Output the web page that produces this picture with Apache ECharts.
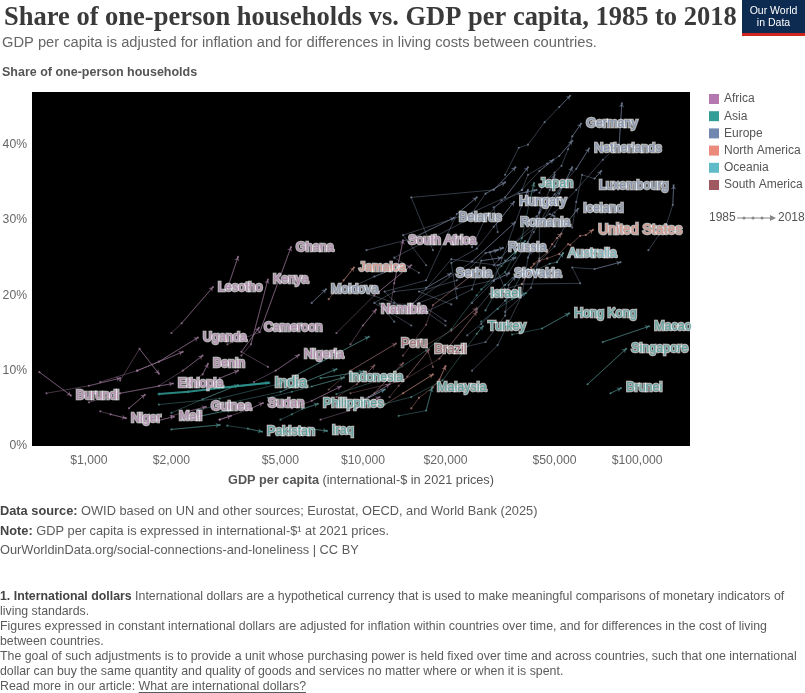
<!DOCTYPE html>
<html>
<head>
<meta charset="utf-8">
<script src="https://cdn.jsdelivr.net/npm/echarts@6/dist/echarts.min.js"></script>
<style>
html,body{margin:0;padding:0;background:#fff;}
#chart{width:805px;height:693px;}
</style>
</head>
<body>
<div id="chart"></div>
<script>
// ---------------- DATA ----------------
const countryNames = [
  'Germany','Netherlands','Japan','Luxembourg','Hungary','Iceland','Belarus','Romania','United States','South Africa',
  'Russia','Australia','Serbia','Slovakia','Israel','Namibia','Hong Kong','Turkey','Macao','Peru',
  'Brazil','Singapore','Malaysia','Brunei','Ghana','Jamaica','Lesotho','Kenya','Moldova','Cameroon',
  'Uganda','Nigeria','Benin','Ethiopia','India','Indonesia','Burundi','Guinea','Sudan','Philippines',
  'Niger','Mali','Pakistan','Iraq',
  'Sweden','Denmark','Norway','Finland','Switzerland','Austria','France','United Kingdom','Belgium','Italy',
  'Spain','Portugal','Greece','Poland','Czechia','Lithuania','Latvia','Estonia','Bulgaria','Croatia',
  'Slovenia','Ireland','Ukraine','Canada','Mexico','Costa Rica','Argentina','Uruguay','Chile','Colombia',
  'Ecuador','South Korea','China','Vietnam','Nepal','Bangladesh','Cambodia','Armenia','New Zealand','Fiji',
  'Malawi','Tanzania','Zambia','Senegal','Egypt','Morocco','Botswana','Zimbabwe','Mozambique','Sierra Leone',
  'Rwanda','Tunisia'
];
const countryRegions = [
  'Europe','Europe','Asia','Europe','Europe','Europe','Europe','Europe','North America','Africa',
  'Europe','Oceania','Europe','Europe','Asia','Africa','Asia','Asia','Asia','South America',
  'South America','Asia','Asia','Asia','Africa','North America','Africa','Africa','Europe','Africa',
  'Africa','Africa','Africa','Africa','Asia','Asia','Africa','Africa','Africa','Asia',
  'Africa','Africa','Asia','Asia',
  'Europe','Europe','Europe','Europe','Europe','Europe','Europe','Europe','Europe','Europe',
  'Europe','Europe','Europe','Europe','Europe','Europe','Europe','Europe','Europe','Europe',
  'Europe','Europe','Europe','North America','North America','North America','South America','South America','South America','South America',
  'South America','Asia','Asia','Asia','Asia','Asia','Asia','Asia','Oceania','Oceania',
  'Africa','Africa','Africa','Africa','Africa','Africa','Africa','Africa','Africa','Africa',
  'Africa','Africa'
];
// GDP per capita (international-$ 2021) along each country's path, 1985 -> 2018
const gdpValues = [
  [44000,46000,50000,53000,56000,58000,62470],
  [40000,43000,50000,55000,60000,66800],
  [27000,33000,36000,38000,39000,40500,42080],
  [110000,128000,135000,136000],
  [22000,21000,26000,30000,35570],
  [40000,44000,50000,55000,60920],
  [10300,15000,21480],
  [13000,11500,15000,25000,35870],
  [41000,44000,47000,52000,56000,57000,62000,65000,69090],
  [12500,13000,14000],
  [21000,16000,22000,28000,32430],
  [33000,35000,38000,43000,48000,51000,53700],
  [15000,11000,13000,17000,20950],
  [20000,16000,22000,30000,34120],
  [27000,31000,35000,39360],
  [9000,10000,11155],
  [35000,45000,56480],
  [12000,15000,19500,26000,27400],
  [75000,110600],
  [7500,9000,13195],
  [12500,13500,14500,17420],
  [66000,91200],
  [13500,17000,17860],
  [80000,87410],
  [3200,4200,5461],
  [7500,8500,9270],
  [2000,2180,2835],
  [3600,3900,4500],
  [6500,7328],
  [4500,3600,4172],
  [1500,1800,2499],
  [4000,4800,5840],
  [2300,2600,2718],
  [1000,1300,2026],
  [1800,2300,3000,4539],
  [4500,5500,6500,8521],
  [660,860],
  [2000,2300,2673],
  [3000,3800,4315],
  [5000,5500,6000,6850],
  [1100,1200,1365],
  [1600,1800,2043],
  [3200,3800,4280],
  [6000,7390],
  [33000,37000,40000,46000,52000,57000],
  [38000,40000,47000,52000,58000],
  [50000,60000,75000,86000,88000],
  [31000,30000,38000,44000,49500],
  [58000,60000,63000,70000,74000],
  [36000,45000,52000,58000],
  [33000,40000,44000,48000,50000],
  [30000,36000,42000,48000,50000],
  [34000,42000,48000,54000],
  [33000,41000,44000,44000,45000],
  [25000,31000,38000,40000,41000],
  [22000,28000,33000,34000,36000],
  [24000,27000,34000,29000,31000],
  [13000,15000,21000,31000,36000],
  [25000,28000,32000,37000,43000],
  [17000,14000,25000,33000,40000],
  [16000,13000,24000,28000,33000],
  [18000,15000,30000,36000],
  [14000,12000,17000,22000,26000],
  [20000,17000,25000,27000,32000],
  [25000,30000,38000,40000],
  [26000,29000,38000,62000,58000,70000,87000],
  [13000,9000,11000,14000],
  [38000,40000,42000,47000,49000,51000,53000],
  [15000,16000,18000,19000,20000],
  [12000,14000,18000],
  [18000,17000,21000,26000],
  [14000,17000,18000,25000],
  [9000,14000,19000,26000],
  [9000,11000,14000],
  [8000,9500,11000],
  [8000,12000,17000,21000,26000,32000,39000],
  [1800,3000,5000,10500],
  [2500,5000,8000],
  [2000,2600,3500],
  [2000,3000],
  [2200,3300],
  [7000,10000],
  [28000,30000,33000,37000,40000,44000],
  [10000,12000],
  [1300,1530,1800],
  [1800,2200,2600],
  [2800,3000,3500],
  [3000,3300],
  [8000,10500,12500],
  [5500,6500,8300],
  [8000,11000,15000],
  [3200,3500],
  [700,1000,1300],
  [1400,1600],
  [1100,1500,2200],
  [7000,9500,11500]
];
// Share of one-person households (%) along each path
const shareValues = [
  [33.6,35.0,36.3,37.2,39.4,41.1,42.8],
  [29.8,30.5,33.4,35.2,36.8,39.5],
  [20.8,23.1,25.6,27.6,29.5,32.4,34.9],
  [26.0,29.4,32.0,34.6],
  [19.6,24.3,26.2,29.1,32.4],
  [22.5,24.5,26.5,29.5,31.5],
  [26.0,27.5,30.3],
  [16.5,18.9,18.8,24.5,29.7],
  [23.7,24.6,24.9,25.5,26.8,26.7,27.9,28.0,28.7],
  [17.8,21.6,27.3],
  [18.8,20.5,22.0,25.6,26.3],
  [19.3,20.5,22.8,23.4,24.2,24.4,25.6],
  [16.0,19.0,20.5,21.0,22.9],
  [16.6,19.0,20.9,22.0,22.9],
  [16.5,18.2,19.5,20.3],
  [13.5,16.0,18.1],
  [14.8,15.6,17.6],
  [5.6,6.5,8.7,14.9,15.9],
  [13.8,15.9],
  [7.5,10.0,13.6],
  [6.5,8.0,9.2,12.8],
  [8.2,12.9],
  [4.0,4.7,7.7],
  [7.0,7.7],
  [13.5,15.1,26.4],
  [19.5,22.0,23.7],
  [15.0,16.3,21.1],
  [12.0,13.5,22.1],
  [19.0,20.8],
  [10.5,12.5,15.7],
  [10.0,11.2,14.4],
  [8.5,10.0,12.1],
  [8.2,9.5,10.9],
  [5.8,7.0,8.3],
  [6.9,7.2,7.7,8.4],
  [6.4,7.2,7.9,9.1],
  [9.8,6.7],
  [4.0,4.6,5.2],
  [3.5,4.8,5.7],
  [3.5,4.2,4.9,5.6],
  [4.6,4.2,3.7],
  [3.0,3.4,3.9],
  [2.7,2.3,1.9],
  [2.4,2.0],
  [36.0,39.6,40.0,43.0,45.0,46.5],
  [34.0,36.0,37.5,38.5,40.5],
  [31.0,34.0,38.0,40.0,45.5],
  [28.4,31.7,34.0,36.5,38.0],
  [29.0,32.4,36.0,35.5,36.5],
  [27.0,29.7,33.5,37.0],
  [24.6,27.1,31.0,34.0,36.0],
  [24.0,27.1,29.5,30.8,30.5],
  [23.0,28.4,32.0,34.8],
  [17.8,21.0,24.9,31.0,33.0],
  [10.0,13.4,20.0,25.0,26.0],
  [12.9,13.8,17.3,21.4,22.5],
  [14.7,16.2,19.7,25.7,26.0],
  [18.3,18.6,24.8,24.0,25.0],
  [26.4,30.3,32.6,33.5,34.0],
  [24.0,28.0,31.0,33.0,37.0],
  [23.0,25.0,30.0,33.5,35.0],
  [26.0,33.0,34.0,37.0],
  [18.0,20.5,22.0,30.8,33.0],
  [16.0,17.8,20.8,24.6,25.0],
  [19.0,21.9,32.0,34.0],
  [18.1,20.2,21.5,21.6,23.7,23.5,24.4],
  [19.0,21.0,22.5,24.0],
  [21.5,22.9,24.2,25.7,26.8,27.6,28.2],
  [5.0,6.4,7.8,8.8,10.6],
  [5.5,7.0,9.5],
  [10.5,13.4,15.3,18.3],
  [12.0,16.1,18.7,22.7],
  [7.0,8.7,11.6,17.8],
  [5.0,7.0,11.0],
  [6.5,8.2,10.7],
  [6.9,9.0,12.7,15.5,20.0,23.9,27.2],
  [5.5,6.3,8.3,14.5],
  [4.8,7.2,10.2],
  [4.4,6.2,8.1],
  [2.2,2.8],
  [3.5,4.8],
  [9.0,9.9],
  [18.0,20.0,21.4,23.1,23.5,22.9],
  [6.0,7.5],
  [8.7,12.9,9.6],
  [8.0,10.0,12.0],
  [8.0,9.0,10.0],
  [3.5,4.0],
  [5.3,6.5,8.2],
  [5.0,6.0,7.9],
  [15.0,20.0,24.0],
  [20.9,25.1],
  [7.0,8.0,9.0],
  [5.0,6.8],
  [8.5,10.0,12.5],
  [3.5,5.0,6.5]
];
const labeledCountries = countryNames.slice(0, 44);
const regionNames = ['Africa','Asia','Europe','North America','Oceania','South America'];
const regionColors = ['#a2559c','#00847e','#4c6a9c','#e56e5a','#38aaba','#883039'];
const xTickValues = [1000,2000,5000,10000,20000,50000,100000];
const yTickValues = [0,10,20,30,40];

// ---------------- STYLE ----------------
const labelLeftSide = ['Luxembourg','Israel'];
const labelFontSize = {'India':15,'United States':14,'Brazil':13};

function mix(a,b,t){
  const pa=parseInt(a.slice(1),16), pb=parseInt(b.slice(1),16);
  const ch=(s)=>Math.round(((pa>>s)&255)*(1-t)+((pb>>s)&255)*t);
  return '#'+((1<<24)|(ch(16)<<16)|(ch(8)<<8)|ch(0)).toString(16).slice(1);
}

const series = [];
const arrowData = [];
countryNames.forEach((name,i)=>{
  const base = regionColors[regionNames.indexOf(countryRegions[i])];
  const isIndia = name === 'India';
  const lineCol = isIndia ? mix(base,'#bbbbbb',0.25) : mix(base,'#aaaaaa',0.5);
  const g = gdpValues[i], s = shareValues[i], n = g.length;
  const pts = g.map((v,j)=>[v, s[j]]);
  const isLab = labeledCountries.includes(name);
  const data = pts.map(p=>p.slice());
  if (isLab) {
    data[n-1] = {
      value: pts[n-1],
      label: {
        show: true,
        position: labelLeftSide.includes(name) ? 'left' : 'right',
        distance: 4,
        formatter: name,
        color: mix(base,'#ffffff',0.2),
        fontFamily: 'Liberation Sans',
        fontSize: labelFontSize[name] || 12.5,
        textBorderColor: '#ffffff',
        textBorderWidth: 2.5
      }
    };
  }
  series.push({
    type: 'line', name: name, data: data,
    symbol: 'circle', symbolSize: isIndia ? 3 : 2.2, showSymbol: true,
    lineStyle: { width: isIndia ? 2 : 0.7, color: lineCol, opacity: isIndia ? 0.9 : 0.6 },
    itemStyle: { color: lineCol, opacity: 0.7 },
    label: { show: false },
    emphasis: { disabled: true },
    silent: true, z: isLab ? 4 : 2, animation: false
  });
  arrowData.push({ coords: [pts[n-2], pts[n-1]], lineStyle: { color: lineCol, width: isIndia ? 2 : 0.7 } });
});
series.push({
  type: 'lines', coordinateSystem: 'cartesian2d', data: arrowData,
  symbol: ['none','arrow'], symbolSize: [0,4],
  lineStyle: { opacity: 0.6 }, silent: true, z: 3, animation: false
});
regionNames.forEach((r,i)=>{
  series.push({ type:'scatter', name:r, data:[], itemStyle:{color:regionColors[i]} });
});

const FONT = 'Liberation Sans';
const grey = '#5b5b5b';
const FOOT = 12.8;
const NOTE = 12.35;
function txt(x,y,text,opts){
  return Object.assign({type:'text', x:x, y:y, silent:true,
    style: Object.assign({text:text, fontFamily:FONT, fontSize:FOOT, fill:grey, align:'left', verticalAlign:'middle'}, opts||{})});
}

const meas = document.createElement('canvas').getContext('2d');
meas.font = NOTE + 'px "Liberation Sans"';
const readPrefix = 'Read more in our article: ';
const linkText = 'What are international dollars?';
const linkX = meas.measureText(readPrefix).width;
const linkW = meas.measureText(linkText).width;

const chart = echarts.init(document.getElementById('chart'), null, {renderer:'canvas'});
chart.setOption({
  animation: false,
  backgroundColor: '#ffffff',
  grid: { left: 32, right: 115, top: 92, bottom: 247, show: true, backgroundColor: '#000000', borderWidth: 0, outerBoundsMode: 'none' },
  xAxis: {
    type: 'log', logBase: 10, min: 620, max: 156000,
    axisLine: { show: false }, axisTick: { show: false }, splitLine: { show: false },
    axisLabel: {
      customValues: xTickValues,
      margin: 9, color: '#666', fontFamily: FONT, fontSize: 12.2,
      formatter: v => '$' + Math.round(v).toLocaleString('en-US')
    },
    name: '{b|GDP per capita} (international-$ in 2021 prices)',
    nameLocation: 'middle', nameGap: 28,
    nameTextStyle: { color: '#555', fontFamily: FONT, fontSize: 12.7,
      rich: { b: { fontWeight: 'bold', color: '#555', fontFamily: FONT, fontSize: 12.7 } } }
  },
  yAxis: {
    type: 'value', min: 0, max: 47,
    axisLine: { show: false }, axisTick: { show: false }, splitLine: { show: false },
    axisLabel: { customValues: yTickValues, margin: 5, color: '#666', fontFamily: FONT, fontSize: 12.2, formatter: v => v + '%' }
  },
  legend: {
    data: regionNames, orient: 'vertical', left: 709, top: 92, padding: 0,
    itemWidth: 10, itemHeight: 10, itemGap: 3.2, icon: 'rect', selectedMode: false,
    textStyle: { fontFamily: FONT, fontSize: 12, color: '#555', lineHeight: 14 }
  },
  series: series,
  graphic: [
    txt(4, 18, 'Share of one-person households vs. GDP per capita, 1985 to 2018',
      {fontFamily:'Liberation Serif', fontWeight:'bold', fontSize:26.5, fill:'#3a3a3a'}),
    txt(2, 43, 'GDP per capita is adjusted for inflation and for differences in living costs between countries.', {fontSize:14.7, fill:'#666'}),
    txt(2, 73, 'Share of one-person households', {fontSize:12.5, fontWeight:'bold', fill:'#555'}),
    // logo
    {type:'rect', shape:{x:742,y:0,width:63,height:36}, style:{fill:'#0d2a50'}, silent:true},
    {type:'rect', shape:{x:742,y:33,width:63,height:3}, style:{fill:'#ce261e'}, silent:true},
    txt(773.5, 11, 'Our World', {fill:'#fff', fontSize:10.5, align:'center'}),
    txt(773.5, 23, 'in Data', {fill:'#fff', fontSize:10.5, align:'center'}),
    // time legend
    txt(709, 218, '1985', {fontSize:12, fill:'#555'}),
    {type:'line', shape:{x1:737,y1:218,x2:772,y2:218}, style:{stroke:'#888', lineWidth:1}, silent:true},
    {type:'circle', shape:{cx:744,cy:218,r:1.5}, style:{fill:'#888'}, silent:true},
    {type:'circle', shape:{cx:753,cy:218,r:1.5}, style:{fill:'#888'}, silent:true},
    {type:'circle', shape:{cx:762,cy:218,r:1.5}, style:{fill:'#888'}, silent:true},
    {type:'polygon', shape:{points:[[770,215],[776,218],[770,221]]}, style:{fill:'#888'}, silent:true},
    txt(778, 218, '2018', {fontSize:12, fill:'#555'}),
    // footer
    txt(0, 511, '{b|Data source:} OWID based on UN and other sources; Eurostat, OECD, and World Bank (2025)',
      {rich:{b:{fontWeight:'bold', fill:'#444', fontFamily:FONT, fontSize:FOOT}}}),
    txt(0, 531, '{b|Note:} GDP per capita is expressed in international-$¹ at 2021 prices.',
      {rich:{b:{fontWeight:'bold', fill:'#444', fontFamily:FONT, fontSize:FOOT}}}),
    txt(0, 550, 'OurWorldinData.org/social-connections-and-loneliness | CC BY'),
    txt(0, 597, '{b|1. International dollars} International dollars are a hypothetical currency that is used to make meaningful comparisons of monetary indicators of',
      {fontSize:NOTE, rich:{b:{fontWeight:'bold', fill:'#444', fontFamily:FONT, fontSize:NOTE}}}),
    txt(0, 612, 'living standards.', {fontSize:NOTE}),
    txt(0, 627, 'Figures expressed in constant international dollars are adjusted for inflation within countries over time, and for differences in the cost of living', {fontSize:NOTE}),
    txt(0, 642, 'between countries.', {fontSize:NOTE}),
    txt(0, 657, 'The goal of such adjustments is to provide a unit whose purchasing power is held fixed over time and across countries, such that one international', {fontSize:NOTE}),
    txt(0, 672, 'dollar can buy the same quantity and quality of goods and services no matter where or when it is spent.', {fontSize:NOTE}),
    txt(0, 687, readPrefix + linkText, {fontSize:NOTE}),
    {type:'line', shape:{x1:linkX, y1:692.5, x2:linkX+linkW, y2:692.5}, style:{stroke:grey, lineWidth:1}, silent:true}
  ]
});
</script>
</body>
</html>
